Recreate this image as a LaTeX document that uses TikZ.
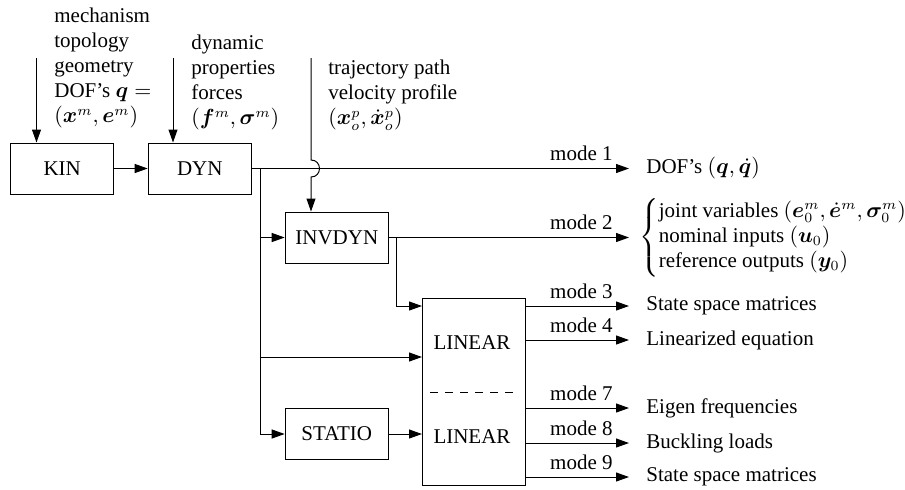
\documentclass[tikz,border=0pt]{standalone}
\usepackage{amsmath}
\usepackage{bm}
\usepackage{fontspec}
\setmainfont{LiberationSerif}[Extension=.ttf, UprightFont=*-Regular, BoldFont=*-Bold, ItalicFont=*-Italic, BoldItalicFont=*-BoldItalic]
\usetikzlibrary{arrows.meta}
\begin{document}
\begin{tikzpicture}[x=0.5pt,y=-0.5pt,
  every node/.style={font=\rmfamily\fontsize{10.5}{12.5}\selectfont, inner sep=0pt},
  box/.style={draw, line width=0.5pt, minimum width=51.6pt, minimum height=25.5pt},
  conn/.style={line width=0.5pt},
  arr/.style={conn, -{Triangle[length=6.5pt,width=4.5pt]}},
  modelbl/.style={anchor=base east},
  outtxt/.style={anchor=west},
  info/.style={anchor=north west, align=left}]
\useasboundingbox (0,0) rectangle (905,489);

% boxes
\node[box] (kin) at (62.2,168.5) {KIN};
\node[box] (dyn) at (199.8,168.5) {DYN};
\node[box] (invdyn) at (336.8,237.5) {INVDYN};
\node[box] (statio) at (336.8,434) {STATIO};
\node[draw, line width=0.5pt, minimum width=51.25pt, minimum height=93.5pt] (linear) at (473.75,391.5) {};
\node (lin1) at (472,343) {LINEAR};
\node (lin2) at (472,437) {LINEAR};
\draw[conn, dash pattern=on 4pt off 3.5pt] (430,392) -- (518,392);

% input texts
\node[info] (mech) at (54,8) {mechanism\\topology\\geometry\\DOF’s $\bm{q}=$\\$(\bm{x}^m, \bm{e}^m)$};
\node[info] (dynt) at (191,35) {dynamic\\properties\\forces\\$(\bm{f}^m, \bm{\sigma}^m)$};
\node[info] (traj) at (328,60) {trajectory path\\velocity profile\\$(\bm{x}_o^p, \dot{\bm{x}}_o^p)$};

% coordinates
\coordinate (kinin) at (36.5,58);
\coordinate (dynin) at (173,58);
\coordinate (trajin) at (311,58);
\coordinate (jt) at (311,160);
\coordinate (jb) at (311,177);
\coordinate (br) at (260,168.5);
\coordinate (out1) at (629,168.5);
\coordinate (out2) at (629,237.5);
\coordinate (tap) at (396.5,237.5);
\coordinate (linin) at (422,357);
\coordinate (o3) at (629,306);
\coordinate (o4) at (629,340);
\coordinate (o7) at (629,408);
\coordinate (o8) at (629,443);
\coordinate (o9) at (629,477);

% connectors
\draw[arr] (kinin) -- (kinin |- kin.north);
\draw[arr] (dynin) -- (dynin |- dyn.north);
\draw[arr] (kin) -- (dyn);
\draw[arr] (dyn.east) -- (out1);
\draw[arr] (trajin) -- (jt) .. controls +(11.3,0) and +(11.3,0) .. (jb) -- (jb |- invdyn.north);
\draw[arr] (br) |- (statio);
\draw[arr] (br |- invdyn.west) -- (invdyn.west);
\draw[arr] (br |- linin) -- (linear.west |- linin);
\draw[arr] (invdyn.east) -- (out2);
\draw[arr] (tap) |- (linear.west |- o3);
\draw[arr] (statio.east) -- (linear.west |- statio.east);
\foreach \o in {o3,o4,o7,o8,o9}{
  \draw[arr] (linear.east |- \o) -- (\o);
}

% mode labels
\node[modelbl] (m1) at (613,160.5) {mode 1};
\node[modelbl] (m2) at (613,229.5) {mode 2};
\node[modelbl] (m3) at (613,298) {mode 3};
\node[modelbl] (m4) at (613,332) {mode 4};
\node[modelbl] (m7) at (613,400) {mode 7};
\node[modelbl] (m8) at (613,435) {mode 8};
\node[modelbl] (m9) at (613,469) {mode 9};

% outputs
\node[outtxt] (t1) at (646,168.5) {DOF’s $(\bm{q}, \dot{\bm{q}})$};
\node[anchor=west] (t2) at (639,237.5) {$\left\{\begin{tabular}{@{}l@{}}joint variables $(\bm{e}_0^m, \dot{\bm{e}}^m, \bm{\sigma}_0^m)$\\nominal inputs $(\bm{u}_0)$\\reference outputs $(\bm{y}_0)$\end{tabular}\right.$};
\node[outtxt] (t3) at (646,306) {State space matrices};
\node[outtxt] (t4) at (646,340) {Linearized equation};
\node[outtxt] (t7) at (646,408) {Eigen frequencies};
\node[outtxt] (t8) at (646,443) {Buckling loads};
\node[outtxt] (t9) at (646,477) {State space matrices};
\end{tikzpicture}
\end{document}
